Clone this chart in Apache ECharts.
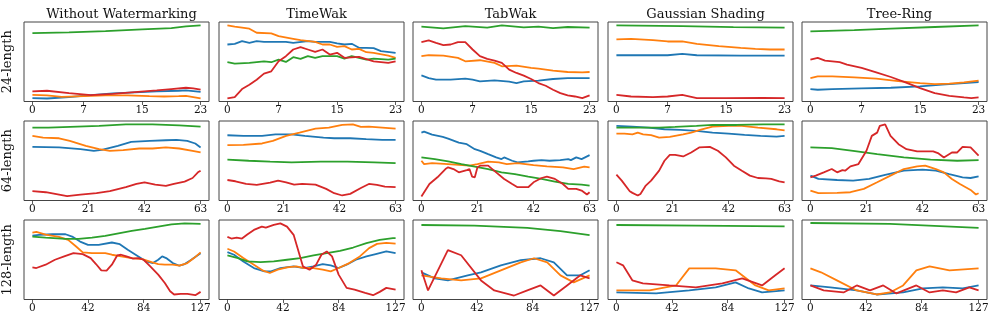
<!DOCTYPE html>
<html><head><meta charset="utf-8">
<script src="https://cdn.jsdelivr.net/npm/echarts@6/dist/echarts.min.js"></script>
<style>html,body{margin:0;padding:0;background:#fff}#c{width:997px;height:319px}</style>
</head><body><div id="c"></div>
<script>
const methods = ['Without Watermarking','TimeWak','TabWak','Gaussian Shading','Tree-Ring'];
const rowLabels = ['24-length','64-length','128-length'];
const seqLengths = [24, 64, 128];
const tickValues = [[0,7,15,23],[0,21,42,63],[0,42,84,127]];
const colors = ['#1f77b4','#ff7f0e','#2ca02c','#d62728'];

// Row 1 (24-length): values as [t, normalized level]
const r1c1_blue = [[0,4.2],[2,3.8],[5,5.5],[8,8.0],[11,10.1],[14,11.4],[17,12.7],[20,13.5],[21,13.9],[23,12.2]];
const r1c1_orange = [[0,8.4],[2,7.6],[4,5.9],[7,6.8],[10,7.6],[13,7.6],[16,6.8],[18,6.3],[20,6.8],[21,7.2],[23,3.8]];
const r1c1_green = [[0,86.1],[5,86.9],[10,88.6],[15,90.7],[19,92.4],[21,94.5],[23,95.8]];
const r1c1_red = [[0,12.7],[2,13.5],[5,10.5],[8,8.0],[11,9.7],[14,11.8],[17,13.9],[19,15.6],[21,17.3],[22,16.5],[23,14.8]];

const r1c2_blue = [[0,71.7],[1,72.6],[2,75.9],[3,73.8],[4,75.9],[5,75.1],[8,75.1],[9,73.8],[11,75.9],[12,75.1],[14,75.1],[15,73.0],[16,71.7],[17,72.6],[18,67.5],[19,67.5],[20,67.1],[21,63.3],[23,61.2]];
const r1c2_orange = [[0,95.8],[1,94.1],[3,91.6],[4,86.5],[6,85.7],[7,82.3],[9,78.9],[10,77.2],[12,75.1],[13,71.7],[14,71.7],[15,68.8],[16,69.6],[17,65.4],[18,66.2],[19,62.0],[20,61.2],[22,57.8],[23,54.9]];
const r1c2_green = [[0,49.4],[1,47.7],[3,48.5],[5,50.6],[6,49.4],[7,52.7],[8,49.8],[9,55.7],[10,53.6],[11,57.0],[12,54.9],[13,57.0],[15,57.0],[16,54.0],[17,57.0],[18,54.9],[19,52.7],[20,54.0],[22,52.7],[23,54.0]];
const r1c2_red = [[0,3.8],[1,5.5],[2,15.6],[3,21.1],[4,27.4],[5,35.0],[6,38.0],[7,50.6],[8,57.0],[9,65.4],[10,68.4],[11,65.4],[12,62.4],[13,65.4],[14,59.1],[15,61.2],[16,54.9],[18,56.1],[20,50.6],[22,48.5],[23,50.6]];

const r1c3_blue = [[0,32.9],[1,29.5],[2,27.4],[4,27.4],[6,28.7],[7,27.4],[8,25.3],[10,26.6],[12,24.9],[13,23.2],[14,25.3],[16,26.2],[18,28.3],[20,29.5],[23,29.5]];
const r1c3_orange = [[0,57.0],[1,58.2],[3,57.8],[5,54.9],[6,50.6],[8,51.9],[10,48.5],[11,44.3],[13,45.1],[15,42.2],[16,41.4],[18,38.8],[20,37.1],[22,36.7],[23,37.1]];
const r1c3_green = [[0,94.1],[3,92.0],[6,94.9],[9,92.8],[11,95.8],[14,93.2],[16,94.1],[18,92.4],[20,93.7],[23,92.8]];
const r1c3_red = [[0,74.7],[1,76.8],[2,73.8],[3,70.9],[4,71.7],[5,74.7],[6,74.7],[7,65.4],[8,57.0],[9,53.6],[10,51.5],[11,48.5],[12,40.1],[13,35.9],[14,32.5],[15,28.3],[16,23.2],[17,19.8],[18,14.8],[19,10.5],[20,7.6],[21,6.3],[22,4.2],[23,7.6]];

const r1c4_blue = [[0,58.2],[7,58.2],[9,59.9],[11,58.2],[17,57.8],[23,57.8]];
const r1c4_orange = [[0,78.1],[2,78.9],[5,77.2],[7,75.5],[9,75.5],[11,72.6],[14,69.6],[17,67.5],[19,66.2],[21,65.4],[23,65.4]];
const r1c4_green = [[0,95.8],[9,94.9],[16,93.5],[23,92.8]];
const r1c4_red = [[0,8.4],[2,6.3],[5,5.5],[7,6.3],[9,8.4],[11,4.2],[15,4.2],[20,4.6],[23,4.2]];

const r1c5_blue = [[0,15.6],[1,14.8],[3,15.6],[7,16.5],[11,17.3],[15,19.0],[18,21.1],[21,23.2],[23,24.5]];
const r1c5_orange = [[0,29.5],[1,31.6],[3,31.6],[6,30.4],[9,28.7],[12,25.7],[15,23.2],[17,21.9],[19,22.4],[21,24.1],[23,26.2]];
const r1c5_green = [[0,88.2],[6,89.9],[11,91.6],[17,93.7],[23,95.8]];
const r1c5_red = [[0,52.7],[1,54.9],[2,51.5],[4,49.4],[5,46.4],[7,42.2],[9,36.7],[11,30.8],[13,24.1],[15,16.9],[17,10.5],[19,7.2],[21,5.1],[22,4.2],[23,5.1]];

// Row 2 (64-length)
const r2c1_blue = [[0,67.5],[10,66.7],[18,64.6],[23,62.5],[26,63.8],[32,68.8],[37,73.8],[44,75.0],[50,75.8],[54,76.3],[58,75.0],[61,71.7],[63,66.7]];
const r2c1_orange = [[0,81.3],[4,79.2],[10,78.3],[14,75.0],[20,68.8],[25,64.6],[29,62.5],[34,63.3],[40,65.4],[45,65.4],[50,66.7],[55,65.4],[60,62.5],[63,60.4]];
const r2c1_green = [[0,91.7],[6,91.7],[25,93.8],[35,95.8],[45,95.8],[55,94.6],[63,92.9]];
const r2c1_red = [[0,11.7],[5,10.4],[13,5.4],[18,7.5],[24,9.2],[29,11.7],[35,16.7],[39,20.8],[42,22.9],[46,20.0],[50,18.3],[53,20.8],[57,23.8],[60,28.3],[62,35.4],[63,37.5]];

const r2c2_blue = [[0,82.1],[6,81.3],[13,81.3],[18,83.3],[24,83.3],[29,81.3],[36,79.2],[40,78.3],[46,78.3],[52,77.1],[58,76.3],[63,76.3]];
const r2c2_orange = [[0,69.6],[6,70.0],[13,71.7],[17,75.0],[22,81.3],[27,85.4],[33,90.4],[38,91.7],[43,95.0],[47,95.8],[50,92.5],[53,92.9],[58,91.7],[63,90.4]];
const r2c2_green = [[0,51.3],[8,50.0],[16,48.8],[24,47.9],[35,48.8],[45,48.8],[55,47.9],[63,47.1]];
const r2c2_red = [[0,25.8],[3,24.2],[7,20.8],[11,19.6],[16,22.5],[19,25.0],[22,22.9],[25,20.0],[28,20.8],[33,20.0],[37,14.6],[40,9.2],[43,6.3],[46,8.3],[50,15.8],[53,20.8],[56,19.6],[59,17.5],[63,16.7]];

const r2c3_blue = [[0,85.4],[1,86.7],[4,82.9],[8,80.0],[10,77.9],[14,72.9],[17,70.8],[20,64.6],[22,62.5],[25,58.3],[28,54.2],[30,52.1],[31,54.2],[34,50.0],[36,47.9],[40,49.2],[42,50.0],[45,50.8],[48,50.0],[52,50.8],[55,52.1],[56,50.8],[58,54.2],[60,52.1],[63,57.1]];
const r2c3_orange = [[0,50.0],[1,45.8],[4,47.1],[10,45.8],[18,43.8],[21,45.8],[25,48.8],[29,47.9],[32,45.8],[36,47.1],[42,44.6],[47,42.9],[53,41.7],[57,39.6],[61,42.5],[63,41.7]];
const r2c3_green = [[0,54.2],[5,52.1],[10,49.2],[15,45.8],[20,42.5],[25,39.6],[30,35.4],[35,33.3],[40,30.0],[45,27.1],[50,23.8],[55,20.8],[60,20.0],[63,18.8]];
const r2c3_red = [[0,5.0],[3,20.8],[6,29.2],[9,39.6],[10,41.7],[12,39.6],[14,35.4],[17,38.3],[18,39.6],[19,30.0],[20,29.2],[21,41.7],[22,43.8],[25,43.8],[28,35.4],[31,27.1],[34,20.8],[36,16.7],[40,16.7],[42,22.9],[45,28.3],[47,30.0],[50,27.1],[53,20.8],[55,14.6],[58,14.6],[60,12.5],[62,7.5],[63,10.4]];

const r2c4_blue = [[0,93.8],[6,92.9],[12,91.7],[18,89.6],[24,88.8],[30,87.5],[36,85.4],[42,84.2],[48,82.5],[54,81.3],[60,80.4],[63,81.3]];
const r2c4_orange = [[0,84.2],[3,84.2],[6,83.3],[8,85.4],[10,83.3],[13,82.1],[16,79.2],[20,80.0],[25,83.3],[28,85.4],[32,89.6],[36,92.9],[42,93.8],[47,93.8],[53,91.7],[60,89.6],[63,88.3]];
const r2c4_green = [[0,91.7],[10,91.7],[16,91.7],[22,92.5],[30,93.8],[36,95.0],[45,95.0],[55,95.8],[63,95.8]];
const r2c4_red = [[0,32.5],[2,25.0],[5,11.7],[6,9.6],[8,6.3],[9,8.3],[11,18.8],[13,25.0],[16,37.5],[18,50.0],[20,57.5],[22,57.5],[25,55.4],[28,60.4],[31,66.7],[35,67.5],[38,62.5],[41,54.2],[44,43.8],[47,37.5],[50,31.3],[53,28.3],[56,27.9],[58,27.1],[61,24.2],[63,22.9]];

const r2c5_blue = [[0,31.3],[3,27.1],[10,25.8],[16,25.0],[22,27.1],[28,32.1],[35,37.5],[42,38.8],[47,37.5],[52,33.3],[57,29.2],[60,28.3],[63,30.4]];
const r2c5_orange = [[0,12.5],[3,9.2],[10,9.6],[15,10.4],[20,14.6],[25,22.9],[30,31.3],[35,39.6],[40,42.9],[43,43.8],[47,39.6],[50,35.4],[53,27.1],[56,20.8],[60,13.3],[62,7.5],[63,9.2]];
const r2c5_green = [[0,66.7],[8,65.8],[16,62.5],[25,58.3],[35,54.2],[45,51.3],[55,50.0],[63,50.8]];
const r2c5_red = [[0,29.2],[2,31.3],[5,35.4],[8,39.6],[10,35.4],[12,38.3],[13,37.5],[15,42.9],[18,45.8],[21,62.5],[23,81.3],[25,85.4],[26,93.8],[28,95.8],[30,81.3],[33,70.8],[36,64.6],[40,61.7],[46,61.7],[48,59.2],[50,54.2],[53,60.4],[55,60.4],[57,67.5],[60,66.7],[63,56.3]];

// Row 3 (128-length)
const r3c1_blue = [[0,80.4],[5,81.3],[15,82.1],[25,82.1],[30,79.2],[36,72.9],[42,68.8],[50,68.8],[60,71.7],[66,69.6],[72,62.5],[80,54.2],[86,47.9],[91,45.8],[95,50.0],[98,54.2],[101,52.1],[106,45.8],[111,42.5],[115,44.6],[120,50.0],[127,58.3]];
const r3c1_orange = [[0,84.2],[3,85.0],[10,81.7],[20,78.8],[27,75.0],[33,66.7],[38,59.2],[45,58.3],[55,58.3],[60,56.3],[67,54.2],[75,52.1],[83,50.8],[90,47.1],[95,44.6],[100,43.8],[106,43.8],[111,42.5],[117,45.8],[122,52.1],[127,59.2]];
const r3c1_green = [[0,79.2],[10,77.9],[25,76.3],[35,76.3],[45,77.9],[55,80.0],[65,83.3],[75,86.3],[85,88.8],[95,91.7],[105,94.6],[115,95.8],[127,95.0]];
const r3c1_red = [[0,40.4],[3,39.6],[10,43.8],[17,50.0],[24,54.2],[31,58.3],[38,57.1],[44,52.1],[48,44.6],[52,36.7],[56,36.3],[60,43.8],[64,55.4],[67,56.3],[71,54.2],[76,51.3],[80,52.1],[84,50.0],[89,41.7],[95,31.3],[100,20.8],[104,10.4],[107,6.3],[112,7.1],[117,7.1],[123,5.4],[127,9.6]];

const r3c2_blue = [[0,59.6],[5,56.3],[12,47.9],[20,39.6],[28,35.4],[33,35.4],[40,39.6],[50,41.7],[58,39.6],[65,41.7],[72,44.6],[78,42.9],[84,39.6],[90,43.8],[97,50.0],[105,54.2],[112,57.1],[120,60.4],[127,58.3]];
const r3c2_orange = [[0,63.8],[5,60.4],[12,52.1],[20,43.8],[27,36.3],[32,33.3],[38,37.5],[45,40.4],[52,41.7],[58,39.6],[65,39.6],[72,37.5],[78,35.4],[84,39.6],[92,45.8],[100,54.2],[107,64.6],[113,70.0],[120,71.3],[127,70.4]];
const r3c2_green = [[0,55.4],[8,52.1],[15,47.9],[25,47.1],[35,47.9],[45,50.0],[55,52.1],[65,55.4],[75,58.3],[85,61.3],[95,65.4],[105,70.8],[115,75.0],[125,77.1],[127,77.1]];
const r3c2_red = [[0,78.8],[3,76.7],[7,77.9],[11,76.7],[15,81.7],[20,87.5],[26,91.7],[29,90.4],[35,93.8],[40,95.8],[45,91.7],[50,81.3],[53,64.6],[57,41.7],[62,37.5],[67,43.8],[71,56.3],[75,60.4],[79,54.2],[84,31.3],[90,14.6],[96,12.5],[104,8.3],[110,5.4],[115,9.6],[120,14.6],[127,12.5]];

const r3c3_blue = [[0,34.2],[10,26.6],[20,24.1],[35,30.4],[45,34.2],[60,43.0],[75,49.4],[90,51.9],[100,46.8],[110,30.4],[120,30.4],[127,36.7]];
const r3c3_orange = [[0,30.4],[15,26.6],[30,24.1],[45,26.6],[60,36.7],[75,46.8],[85,51.9],[95,46.8],[105,30.4],[115,21.5],[127,30.4]];
const r3c3_green = [[0,93.7],[40,93.0],[80,90.0],[105,86.0],[127,81.0]];
const r3c3_red = [[0,36.7],[5,11.4],[20,62.0],[30,55.7],[45,24.0],[55,11.4],[70,5.0],[80,11.4],[90,17.7],[100,5.0],[110,17.7],[120,30.4],[127,26.6]];

const r3c4_blue = [[0,8.9],[30,7.6],[55,11.4],[75,15.2],[90,21.5],[100,13.9],[110,8.9],[127,11.4]];
const r3c4_orange = [[0,11.4],[25,11.4],[45,17.7],[55,39.2],[75,39.2],[90,36.7],[105,17.7],[115,11.4],[127,13.9]];
const r3c4_green = [[0,93.7],[60,93.0],[127,92.0]];
const r3c4_red = [[0,46.8],[5,43.0],[12,24.1],[20,20.3],[40,17.7],[60,15.2],[80,20.3],[95,26.6],[110,17.7],[120,30.4],[127,39.2]];

const r3c5_blue = [[0,17.7],[15,15.2],[35,11.4],[50,6.3],[70,8.9],[85,13.9],[100,15.2],[115,13.9],[127,17.7]];
const r3c5_orange = [[0,39.2],[8,34.2],[20,24.1],[35,11.4],[50,6.3],[60,8.9],[70,17.7],[80,36.7],[90,41.8],[105,36.7],[127,39.2]];
const r3c5_green = [[0,96.2],[60,95.0],[127,90.0]];
const r3c5_red = [[0,17.7],[10,11.4],[25,8.9],[35,17.7],[45,11.4],[55,17.7],[65,7.6],[80,17.7],[90,8.9],[100,11.4],[110,8.9],[120,15.2],[127,11.4]];

const panelData = [
  [[r1c1_blue,r1c1_orange,r1c1_green,r1c1_red],[r1c2_blue,r1c2_orange,r1c2_green,r1c2_red],[r1c3_blue,r1c3_orange,r1c3_green,r1c3_red],[r1c4_blue,r1c4_orange,r1c4_green,r1c4_red],[r1c5_blue,r1c5_orange,r1c5_green,r1c5_red]],
  [[r2c1_blue,r2c1_orange,r2c1_green,r2c1_red],[r2c2_blue,r2c2_orange,r2c2_green,r2c2_red],[r2c3_blue,r2c3_orange,r2c3_green,r2c3_red],[r2c4_blue,r2c4_orange,r2c4_green,r2c4_red],[r2c5_blue,r2c5_orange,r2c5_green,r2c5_red]],
  [[r3c1_blue,r3c1_orange,r3c1_green,r3c1_red],[r3c2_blue,r3c2_orange,r3c2_green,r3c2_red],[r3c3_blue,r3c3_orange,r3c3_green,r3c3_red],[r3c4_blue,r3c4_orange,r3c4_green,r3c4_red],[r3c5_blue,r3c5_orange,r3c5_green,r3c5_red]]
];

const FONT = 'DejaVu Serif';
const colLeft = [24, 219, 413, 608, 802];
const rowTop = [22, 121, 220];
const W = 185, H = 79.5;

const grids = [], xAxes = [], yAxes = [], series = [], titles = [];
let gi = 0;
for (let r = 0; r < 3; r++) {
  const n = seqLengths[r] - 1;
  for (let c = 0; c < 5; c++) {
    grids.push({left: colLeft[c], top: rowTop[r], width: W, height: H, show: true, borderColor: '#444', borderWidth: 1, backgroundColor: 'transparent'});
    xAxes.push({
      type: 'value', gridIndex: gi, min: -0.05 * n, max: n * 1.05,
      axisLine: {show: false},
      axisTick: {show: true, customValues: tickValues[r], length: 3.5, lineStyle: {color: '#333', width: 0.8}},
      axisLabel: {show: true, customValues: tickValues[r], fontFamily: FONT, fontSize: 10.5, color: '#111', margin: 3},
      splitLine: {show: false}
    });
    yAxes.push({
      type: 'value', gridIndex: gi, min: 0, max: 100,
      axisLine: {show: false}, axisTick: {show: false}, axisLabel: {show: false}, splitLine: {show: false},
      name: c === 0 ? rowLabels[r] : '', nameLocation: 'middle', nameRotate: 90, nameGap: 10,
      nameTextStyle: {fontFamily: FONT, fontSize: 13, color: '#111'}
    });
    panelData[r][c].forEach((d, k) => {
      series.push({type: 'line', xAxisIndex: gi, yAxisIndex: gi, data: d, showSymbol: false, symbol: 'none',
        lineStyle: {color: colors[k], width: 1.8}, itemStyle: {color: colors[k]}, z: 2 + k, animation: false});
    });
    gi++;
  }
}
for (let c = 0; c < 5; c++) {
  titles.push({text: methods[c], left: colLeft[c] + W / 2, top: 3, textAlign: 'center',
    textStyle: {fontFamily: FONT, fontSize: 13, fontWeight: 'normal', color: '#111'}});
}

const chart = echarts.init(document.getElementById('c'), null, {renderer: 'canvas'});
chart.setOption({animation: false, backgroundColor: '#fff', title: titles, grid: grids, xAxis: xAxes, yAxis: yAxes, series: series});
</script></body></html>
